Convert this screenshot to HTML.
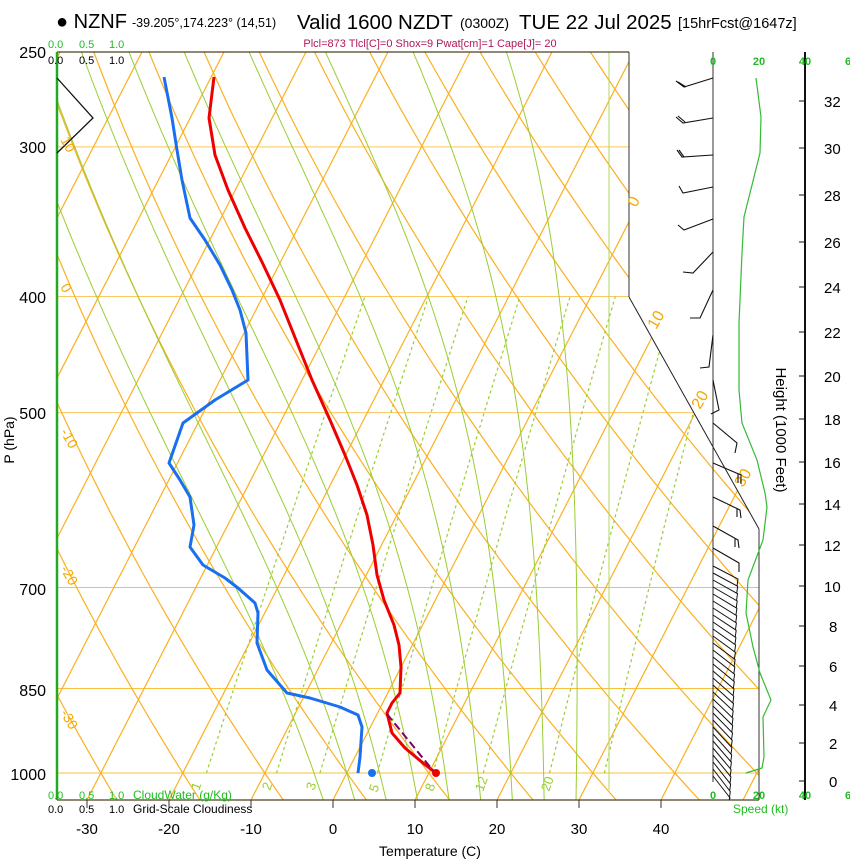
<!DOCTYPE html>
<html><head><meta charset="utf-8">
<style>
html,body{margin:0;padding:0;background:#fff;}
svg{display:block;font-family:"Liberation Sans",Arial,sans-serif;}
</style></head>
<body>
<svg id="s" width="850" height="860" viewBox="0 0 850 860" xmlns="http://www.w3.org/2000/svg">
<defs>
<clipPath id="cp"><polygon points="57,52 629,52 629,297 759,529 759,800 57,800"/></clipPath>
</defs>
<rect width="850" height="860" fill="#fff"/>
<g id="grid" clip-path="url(#cp)"></g>
<g id="over"></g>
</svg>
<script>
const NS="http://www.w3.org/2000/svg";
const grid=document.getElementById('grid');
const over=document.getElementById('over');
function el(tag,attrs,parent,text){const e=document.createElementNS(NS,tag);for(const k in attrs)e.setAttribute(k,attrs[k]);if(text!==undefined)e.textContent=text;(parent||over).appendChild(e);return e;}
function Y(p){return 773-520*Math.log(1000/p);}
function X(T,y){return 333+8.2*T+0.512*(800-y);}
[[300,'#f9c860'],[400,'#f9c860'],[500,'#f9c860'],[700,'#f9c040'],[850,'#f9c040'],[1000,'#f9c040']].forEach(a=>{
 const y=Y(a[0]);el('line',{x1:57,y1:y,x2:760,y2:y,stroke:a[1],'stroke-width':1},grid);});
for(let T=-110;T<=60;T+=10){el('line',{x1:X(T,800),y1:800,x2:X(T,52),y2:52,stroke:'#fbb020','stroke-width':1.2},grid);}
for(let th=-40;th<=200;th+=10){let pts=[];for(let p=1060;p>=240;p-=10){const T=(th+273.15)*Math.pow(p/1000,0.2857)-273.15;const y=Y(p);pts.push(X(T,y).toFixed(1)+','+y.toFixed(1));}
 el('polyline',{points:pts.join(' '),fill:'none',stroke:'#fbb020','stroke-width':1.2},grid);}
function es(Tc){return 6.112*Math.exp(17.67*Tc/(Tc+243.5));}
function dTdp(Tk,p){const e=es(Tk-273.15);const rs=0.622*e/(p-e);const Rd=287,cp=1004,Lv=2.5e6;return (1/p)*(Rd*Tk+Lv*rs)/(cp+Lv*Lv*rs*0.622/(Rd*Tk*Tk));}
for(let tw=-4;tw<=28;tw+=4){let pts=[];let Tk=tw+273.15;
 let T2=Tk;for(let q=1000;q<1060;q+=2){T2+=dTdp(T2,q)*2;}
 let arr=[[1060,T2]];let T=Tk;
 for(let q=1000;q>=240;q-=2){arr.push([q,T]);T-=dTdp(T,q)*2;}
 arr.forEach(a=>{const y=Y(a[0]);pts.push(X(a[1]-273.15,y).toFixed(1)+','+y.toFixed(1));});
 el('polyline',{points:pts.join(' '),fill:'none',stroke:'#9acd32','stroke-width':1},grid);}
[1,2,3,5,8,12,20,30].forEach(w=>{let pts=[];for(let p=1000;p>=400;p-=10){const e=w*p/(622+w);const l=Math.log(e/6.112);const Td=243.5*l/(17.67-l);const y=Y(p);pts.push(X(Td,y).toFixed(1)+','+y.toFixed(1));}
 el('polyline',{points:pts.join(' '),fill:'none',stroke:'#9acd32','stroke-width':1.2,'stroke-dasharray':'3,3'},grid);});
</script>
<svg width="850" height="860" viewBox="0 0 850 860" style="position:absolute;left:0;top:0" xmlns="http://www.w3.org/2000/svg" font-family="Liberation Sans, Arial, sans-serif">
<line x1="609" y1="52" x2="609" y2="790" stroke="#b0d860" stroke-width="1"/>
<line x1="57" y1="52" x2="629" y2="52" stroke="#4a4020" stroke-width="1.2"/>
<line x1="629" y1="52" x2="629" y2="297" stroke="#333" stroke-width="1"/>
<line x1="629" y1="297" x2="759" y2="529" stroke="#222" stroke-width="1"/>
<line x1="759" y1="529" x2="759" y2="800" stroke="#333" stroke-width="1"/>
<line x1="57" y1="800" x2="759" y2="800" stroke="#4a4020" stroke-width="1.2"/>
<line x1="57" y1="52" x2="57" y2="800" stroke="#22aa22" stroke-width="2.5"/>
<line x1="713" y1="52" x2="713" y2="782" stroke="#333" stroke-width="1"/>
<line x1="805" y1="52" x2="805" y2="800" stroke="#111" stroke-width="2"/>
<g stroke="#333" stroke-width="1">
<line x1="87" y1="800" x2="87" y2="808"/><line x1="169" y1="800" x2="169" y2="808"/><line x1="251" y1="800" x2="251" y2="808"/><line x1="333" y1="800" x2="333" y2="808"/><line x1="415" y1="800" x2="415" y2="808"/><line x1="497" y1="800" x2="497" y2="808"/><line x1="579" y1="800" x2="579" y2="808"/><line x1="661" y1="800" x2="661" y2="808"/>
</g>
<g font-size="15" fill="#000" text-anchor="middle">
<text x="87" y="834">-30</text><text x="169" y="834">-20</text><text x="251" y="834">-10</text><text x="333" y="834">0</text><text x="415" y="834">10</text><text x="497" y="834">20</text><text x="579" y="834">30</text><text x="661" y="834">40</text>
<text x="430" y="856" font-size="14">Temperature (C)</text>
</g>
<g font-size="16" fill="#000" text-anchor="end" stroke="#fff" stroke-width="0">
<text x="46" y="58">250</text><text x="46" y="153">300</text><text x="46" y="303">400</text><text x="46" y="419">500</text><text x="46" y="595">700</text><text x="46" y="696">850</text><text x="46" y="780">1000</text>
</g>
<text transform="translate(14,440) rotate(-90)" font-size="14" text-anchor="middle">P (hPa)</text>
<g font-size="15" fill="#000">
<g stroke="#111" stroke-width="1">
<line x1="799" y1="101" x2="805" y2="101"/><line x1="799" y1="148" x2="805" y2="148"/><line x1="799" y1="195" x2="805" y2="195"/><line x1="799" y1="242" x2="805" y2="242"/><line x1="799" y1="287" x2="805" y2="287"/><line x1="799" y1="332" x2="805" y2="332"/><line x1="799" y1="376" x2="805" y2="376"/><line x1="799" y1="419" x2="805" y2="419"/><line x1="799" y1="462" x2="805" y2="462"/><line x1="799" y1="504" x2="805" y2="504"/><line x1="799" y1="545" x2="805" y2="545"/><line x1="799" y1="586" x2="805" y2="586"/><line x1="799" y1="626" x2="805" y2="626"/><line x1="799" y1="666" x2="805" y2="666"/><line x1="799" y1="705" x2="805" y2="705"/><line x1="799" y1="743" x2="805" y2="743"/><line x1="799" y1="781" x2="805" y2="781"/>
</g>
<text x="824" y="107">32</text><text x="824" y="154">30</text><text x="824" y="201">28</text><text x="824" y="248">26</text><text x="824" y="293">24</text><text x="824" y="338">22</text><text x="824" y="382">20</text><text x="824" y="425">18</text><text x="824" y="468">16</text><text x="824" y="510">14</text><text x="824" y="551">12</text><text x="824" y="592">10</text><text x="829" y="632">8</text><text x="829" y="672">6</text><text x="829" y="711">4</text><text x="829" y="749">2</text><text x="829" y="787">0</text>
</g>
<text transform="translate(776,430) rotate(90)" font-size="15" text-anchor="middle">Height (1000 Feet)</text>
<g font-size="11" font-weight="bold" fill="#22bb22" text-anchor="middle">
<text x="713" y="65">0</text><text x="759" y="65">20</text><text x="805" y="65">40</text><text x="848" y="65">6</text>
<text x="713" y="799">0</text><text x="759" y="799">20</text><text x="805" y="799">40</text><text x="848" y="799">6</text>
</g>
<text x="733" y="813" font-size="12" fill="#22bb22">Speed (kt)</text>
<polyline fill="none" stroke="#33bb33" stroke-width="1.2" points="756,78 761,117 760,153 744,217 742,253 739,323 739,390 742,423 757,460 765,493 767,507 763,540 748,580 746,613 753,647 760,673 771,700 763,717 764,757 762,768 746,773"/>
<text x="56" y="28" font-size="20">● NZNF</text>
<text x="132" y="27" font-size="12.5">-39.205°,174.223° (14,51)</text>
<text x="297" y="29" font-size="20.5">Valid 1600 NZDT</text>
<text x="460" y="28" font-size="14">(0300Z)</text>
<text x="519" y="29" font-size="20.5">TUE 22 Jul 2025</text>
<text x="678" y="28" font-size="14.5">[15hrFcst@1647z]</text>
<text x="430" y="47" font-size="11" fill="#b0185a" text-anchor="middle">Plcl=873 Tlcl[C]=0 Shox=9 Pwat[cm]=1 Cape[J]= 20</text>
<g font-size="11">
<text x="48" y="48" fill="#22bb22">0.0</text><text x="79" y="48" fill="#22bb22">0.5</text><text x="109" y="48" fill="#22bb22">1.0</text>
<text x="48" y="64" fill="#000">0.0</text><text x="79" y="64" fill="#000">0.5</text><text x="109" y="64" fill="#000">1.0</text>
<text x="48" y="799" fill="#22bb22">0.0</text><text x="79" y="799" fill="#22bb22">0.5</text><text x="109" y="799" fill="#22bb22">1.0</text><text x="133" y="799" fill="#22bb22" font-size="12">CloudWater (g/Kg)</text>
<text x="48" y="813" fill="#000">0.0</text><text x="79" y="813" fill="#000">0.5</text><text x="109" y="813" fill="#000">1.0</text><text x="133" y="813" fill="#000" font-size="12">Grid-Scale Cloudiness</text>
</g>
<polyline fill="none" stroke="#111" stroke-width="1.3" points="57,78 93,118 57,153"/>
<g font-size="14" fill="#f5a800">
<text transform="translate(60,140) rotate(60)">10</text>
<text transform="translate(60,287) rotate(60)">0</text>
<text transform="translate(60,432) rotate(60)">-10</text>
<text transform="translate(60,569) rotate(60)">-20</text>
<text transform="translate(60,713) rotate(60)">-30</text>
<text transform="translate(636,208) rotate(-60)" font-size="16">0</text>
<text transform="translate(656,330) rotate(-60)" font-size="16">10</text>
<text transform="translate(700,410) rotate(-60)" font-size="16">20</text>
<text transform="translate(743,488) rotate(-60)" font-size="16">30</text>
</g>
<g font-size="13" fill="#9acd32">
<text transform="translate(199,791) rotate(-70)">1</text>
<text transform="translate(270,791) rotate(-70)">2</text>
<text transform="translate(314,791) rotate(-70)">3</text>
<text transform="translate(377,793) rotate(-70)">5</text>
<text transform="translate(433,792) rotate(-70)">8</text>
<text transform="translate(483,792) rotate(-70)">12</text>
<text transform="translate(549,792) rotate(-70)">20</text>
</g>
<polyline fill="none" stroke="#1a6ff0" stroke-width="3" stroke-linejoin="round" points="164,77 172,118 177,150 182,180 190,218 205,240 220,265 232,290 240,310 246,333 248,380 215,400 183,423 169,463 180,480 190,497 194,525 190,547 203,565 225,578 238,588 255,603 258,613 257,643 267,670 287,693 310,698 340,707 358,715 362,727 360,757 358,773"/>
<polyline fill="none" stroke="#ee0000" stroke-width="3" stroke-linejoin="round" points="214,77 209,118 215,155 228,190 245,228 262,262 280,300 296,340 312,380 330,420 345,455 357,485 367,515 373,545 377,575 384,600 394,625 399,645 401,667 400,693 392,703 387,713 392,733 405,748 423,763 436,773"/>
<polyline fill="none" stroke="#800060" stroke-width="2" stroke-dasharray="8,4" points="387,714 435,773"/>
<circle cx="372" cy="773" r="4" fill="#1a6ff0"/>
<circle cx="436" cy="773" r="4" fill="#ee0000"/>
<g stroke="#111" stroke-width="1.1" fill="none">
<polyline points="713,78 684,87 676,81"/><line x1="686" y1="87" x2="678" y2="82"/>
<polyline points="713,118 683,123 676,117"/><line x1="685" y1="122" x2="678" y2="116"/>
<polyline points="713,155 682,157 677,150"/><line x1="684" y1="157" x2="679" y2="150"/>
<polyline points="713,187 683,193 679,186"/>
<polyline points="713,219 684,230 678,225"/>
<polyline points="713,252 693,273 683,272"/>
<polyline points="713,290 700,318 690,318"/>
<polyline points="713,335 709,367 700,368"/>
<polyline points="713,380 719,410 711,414"/>
<polyline points="713,423 737,443 735,453"/>
<polyline points="713,463 741,475 741,484"/><line x1="738" y1="474" x2="738" y2="483"/>
<polyline points="713,497 740,510 741,518"/><line x1="737" y1="509" x2="737" y2="517"/>
<polyline points="713,526 738,540 739,548"/><line x1="735" y1="539" x2="735" y2="547"/>
<polyline points="713,548 739,563 739,572"/>
</g>
<g id="dense" stroke="#111" stroke-width="1" fill="none"></g>
</svg>
<script>
(function(){const g=document.getElementById('dense');const NS="http://www.w3.org/2000/svg";
for(let y=566;y<=778;y+=7){const f=(y-566)/212;const ex=738-f*8;const ey=y+13+f*10;
const l=document.createElementNS(NS,'polyline');l.setAttribute('points',`713,${y} ${ex.toFixed(1)},${Math.min(ey,798).toFixed(1)} ${(ex-1).toFixed(1)},${Math.min(ey+7,800).toFixed(1)}`);g.appendChild(l);}})();
</script>
</body></html>
